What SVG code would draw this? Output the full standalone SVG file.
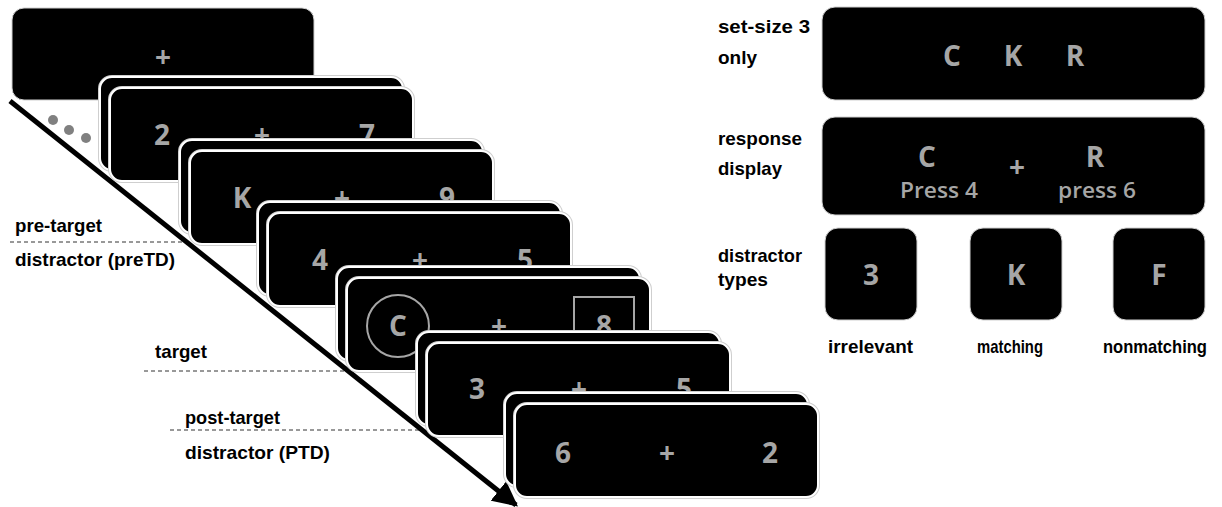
<svg xmlns="http://www.w3.org/2000/svg" width="1222" height="507" viewBox="0 0 1222 507">
<style>
.card{fill:#000;stroke:#fff;stroke-width:2}
.halo{fill:none;stroke:#cfcfcf;stroke-width:4}
.box{fill:#000;stroke:#d0d0d0;stroke-width:1}
.g{font-family:"Open Sans","Noto Sans",sans-serif;font-weight:700;font-size:28px;fill:#a6a6a6;text-anchor:middle}
.gs{font-family:"Open Sans","Noto Sans",sans-serif;font-weight:600;font-size:22px;fill:#a6a6a6;text-anchor:middle}
.lab{font-family:"Liberation Sans Narrow","Liberation Sans",Arial,sans-serif;font-weight:bold;font-size:19px;fill:#000}
.dash{stroke:#333;stroke-width:1;stroke-dasharray:4 3;fill:none}
.mark{fill:none;stroke:#a6a6a6;stroke-width:2}
</style>
<defs>
<marker id="ah" viewBox="0 0 10 10" refX="9" refY="5" markerWidth="5" markerHeight="5" orient="auto" markerUnits="strokeWidth">
<path d="M0,0 L10,5 L0,10 z" fill="#000"/>
</marker>
<g id="pairShape">
<rect class="halo" x="-10" y="-11" width="303" height="93" rx="12"/>
<rect class="card" x="-10" y="-11" width="303" height="93" rx="12"/>
<rect class="halo" x="0" y="0" width="303" height="93" rx="12"/>
<rect class="card" x="0" y="0" width="303" height="93" rx="12"/>
</g>
</defs>
<rect width="1222" height="507" fill="#fff"/>

<g id="labels">
<path class="dash" d="M10,242 H188"/>
<path class="dash" d="M144,371 H348"/>
<path class="dash" d="M170,430 H422"/>
<text class="lab" x="15" y="232" textLength="87" lengthAdjust="spacingAndGlyphs">pre-target</text>
<text class="lab" x="15" y="266" textLength="160" lengthAdjust="spacingAndGlyphs">distractor (preTD)</text>
<text class="lab" x="155" y="358" textLength="52" lengthAdjust="spacingAndGlyphs">target</text>
<text class="lab" x="185" y="424" textLength="95" lengthAdjust="spacingAndGlyphs">post-target</text>
<text class="lab" x="185" y="459" textLength="145" lengthAdjust="spacingAndGlyphs">distractor (PTD)</text>
</g>

<g id="fixation">
<rect class="box" x="12" y="8" width="302" height="92" rx="12"/>
<text class="g" x="163" y="67">+</text>
</g>

<g id="connectors">
<line x1="10" y1="101" x2="516" y2="505" stroke="#000" stroke-width="5" marker-end="url(#ah)"/>
<circle cx="53" cy="120" r="5" fill="#808080"/>
<circle cx="69" cy="130" r="5" fill="#808080"/>
<circle cx="86" cy="138" r="5" fill="#808080"/>
</g>

<g id="frame1" transform="translate(110,88)">
<use href="#pairShape"/>
<text class="g" x="52" y="57">2</text><text class="g" x="152" y="57">+</text><text class="g" x="257" y="57">7</text>
</g>
<g id="frame2" transform="translate(190,151)">
<use href="#pairShape"/>
<text class="g" x="52" y="57">K</text><text class="g" x="152" y="57">+</text><text class="g" x="257" y="57">9</text>
</g>
<g id="frame3" transform="translate(268,213)">
<use href="#pairShape"/>
<text class="g" x="52" y="57">4</text><text class="g" x="152" y="57">+</text><text class="g" x="257" y="57">5</text>
</g>
<g id="frame4" transform="translate(347,278)">
<use href="#pairShape"/>
<circle class="mark" cx="51" cy="48" r="31"/>
<rect class="mark" x="227" y="19" width="60" height="60"/>
<text class="g" x="51" y="58">C</text><text class="g" x="152" y="58">+</text><text class="g" x="257" y="58">8</text>
</g>
<g id="frame5" transform="translate(427,343)">
<use href="#pairShape"/>
<text class="g" x="50" y="56">3</text><text class="g" x="152" y="56">+</text><text class="g" x="257" y="56">5</text>
</g>
<g id="frame6" transform="translate(515,404)">
<use href="#pairShape"/>
<text class="g" x="48" y="59">6</text><text class="g" x="152" y="59">+</text><text class="g" x="255" y="59">2</text>
</g>

<g id="setsize">
<text class="lab" x="718" y="33" textLength="92" lengthAdjust="spacingAndGlyphs">set-size 3</text>
<text class="lab" x="718" y="64" textLength="39" lengthAdjust="spacingAndGlyphs">only</text>
<rect class="box" x="822" y="7" width="383" height="93" rx="13"/>
<text class="g" x="952" y="66">C</text><text class="g" x="1013" y="66">K</text><text class="g" x="1075" y="66">R</text>
</g>

<g id="response">
<text class="lab" x="718" y="145" textLength="84" lengthAdjust="spacingAndGlyphs">response</text>
<text class="lab" x="718" y="175" textLength="64" lengthAdjust="spacingAndGlyphs">display</text>
<rect class="box" x="822" y="117" width="383" height="98" rx="13"/>
<text class="g" x="927" y="167">C</text>
<text class="g" x="1095" y="167">R</text>
<text class="g" x="1017" y="177">+</text>
<text class="gs" x="939" y="198" textLength="78" lengthAdjust="spacingAndGlyphs">Press 4</text>
<text class="gs" x="1097" y="198" textLength="78" lengthAdjust="spacingAndGlyphs">press 6</text>
</g>

<g id="distractors">
<text class="lab" x="718" y="262" textLength="84" lengthAdjust="spacingAndGlyphs">distractor</text>
<text class="lab" x="718" y="286" textLength="50" lengthAdjust="spacingAndGlyphs">types</text>
</g>
<g id="irrelevant">
<rect class="box" x="825" y="228" width="92" height="92" rx="13"/>
<text class="g" x="871" y="285">3</text>
<text class="lab" x="828" y="353" textLength="85" lengthAdjust="spacingAndGlyphs">irrelevant</text>
</g>
<g id="matching">
<rect class="box" x="970" y="228" width="92" height="92" rx="13"/>
<text class="g" x="1016" y="285">K</text>
<text class="lab" x="977" y="353" textLength="66" lengthAdjust="spacingAndGlyphs">matching</text>
</g>
<g id="nonmatching">
<rect class="box" x="1113" y="228" width="92" height="92" rx="13"/>
<text class="g" x="1159" y="285">F</text>
<text class="lab" x="1103" y="353" textLength="104" lengthAdjust="spacingAndGlyphs">nonmatching</text>
</g>
</svg>
